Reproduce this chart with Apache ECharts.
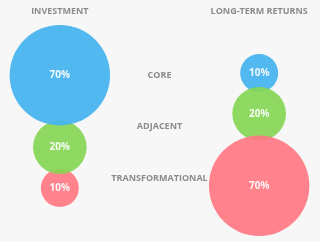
<!DOCTYPE html>
<html><head><meta charset="utf-8">
<script src="https://cdn.jsdelivr.net/npm/echarts@6/dist/echarts.min.js"></script>
<style>html,body{margin:0;padding:0;background:#f7f7f7}#c{width:320px;height:242px}</style>
</head><body><div id="c"></div>
<script>
// ---- data ----
const columns = ['INVESTMENT', '', 'LONG-TERM RETURNS'];
const categories = ['CORE', 'ADJACENT', 'TRANSFORMATIONAL'];
const investment = [70, 20, 10];
const returns = [10, 20, 70];
const colors = ['#42b2ef', '#85d655', '#ff7782'];

// ---- layout ----
const radiusScale = 6;          // radius = radiusScale * sqrt(value)
const colTop = [25, 54];        // top of each circle stack
const overlap = 5;
const headerY = 11;
const labelY = [75, 126, 178];

function stack(values, top) {
  const out = [];
  let y = top;
  values.forEach((v, i) => {
    const r = radiusScale * Math.sqrt(v);
    if (i > 0) y -= overlap;
    out.push({ v: v, r: r, cy: y + r, i: i });
    y += 2 * r;
  });
  return out;
}

function circleSeries(values, colIdx, top) {
  const items = stack(values, top).sort((a, b) => a.v - b.v);
  return {
    type: 'scatter',
    silent: true,
    data: items.map(it => ({
      value: [colIdx, it.cy, it.v],
      symbolSize: it.r * 2,
      itemStyle: { color: colors[it.i], opacity: 0.92 }
    })),
    label: {
      show: true, position: 'inside',
      formatter: p => p.value[2] + '%',
      color: '#fff', fontFamily: 'Open Sans', fontWeight: 'bold', fontSize: 10
    }
  };
}

const textStyle = { color: '#6f6f6f', fontFamily: 'Open Sans', fontWeight: 'bold', fontSize: 9 };

const chart = echarts.init(document.getElementById('c'));
chart.setOption({
  backgroundColor: '#f7f7f7',
  animation: false,
  grid: { left: 10, right: 11, top: 0, bottom: 0 },
  xAxis: { type: 'category', data: columns, show: false },
  yAxis: { type: 'value', min: 0, max: 242, inverse: true, show: false },
  series: [
    circleSeries(investment, 0, colTop[0]),
    circleSeries(returns, 2, colTop[1]),
    {
      type: 'scatter', silent: true, symbolSize: 1, itemStyle: { color: 'rgba(0,0,0,0)' },
      data: [[0, headerY, columns[0]], [2, headerY, columns[2]]].concat(
        categories.map((c, i) => [1, labelY[i], c])),
      label: Object.assign({ show: true, position: 'inside', formatter: p => p.value[2] }, textStyle)
    }
  ]
});
</script></body></html>
